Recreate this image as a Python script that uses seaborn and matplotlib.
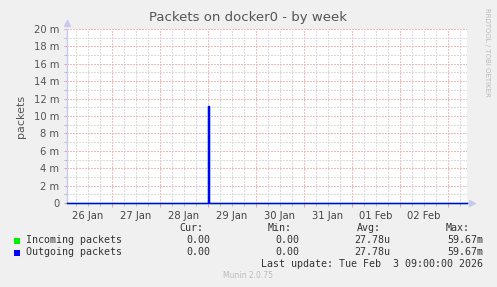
import numpy as np
import pandas as pd
import matplotlib
matplotlib.use("Agg")
import matplotlib.pyplot as plt
import matplotlib.dates as mdates
import matplotlib.ticker as mticker
import seaborn as sns

# ---- data (values in milli-packets/s) ----
times = ["2026-01-26 01:30", "2026-01-28 23:30", "2026-01-29 00:00",
         "2026-01-29 00:30", "2026-02-03 09:30"]
incoming = [0.0, 0.0, 11.1, 0.0, 0.0]
outgoing = [0.0, 0.0, 11.1, 0.0, 0.0]
series_names = ["Incoming packets", "Outgoing packets"]
series_colors = ["#00ee00", "#0000ff"]
cur_vals = ["0.00", "0.00"]
min_vals = ["0.00", "0.00"]
avg_vals = ["27.78u", "27.78u"]
max_vals = ["59.67m", "59.67m"]

t = pd.to_datetime(times)
df = pd.DataFrame({"time": list(t) * 2,
                   "value": incoming + outgoing,
                   "series": [series_names[0]] * len(t) + [series_names[1]] * len(t)})

W, H = 497, 287
fig = plt.figure(figsize=(W / 100, H / 100), dpi=100, facecolor="#f0f0f0")
L, R, T, B = 67, 467, 29, 203
ax = fig.add_axes([L / W, 1 - B / H, (R - L) / W, (B - T) / H])
ax.set_facecolor("white")

sns.lineplot(data=df, x="time", y="value", hue="series", palette=series_colors,
             ax=ax, legend=False, drawstyle="steps-post", linewidth=1.0, zorder=5)
for ln in ax.get_lines():
    ln.set_clip_on(False)

ax.set_xlim(t[0], t[-1])
ax.set_ylim(0, 20)

# y grid
ax.yaxis.set_major_locator(mticker.MultipleLocator(2))
ax.yaxis.set_minor_locator(mticker.MultipleLocator(1))
ax.yaxis.set_major_formatter(mticker.FuncFormatter(lambda v, p: "0" if v == 0 else f"{v:g} m"))

# x grid: midnight red, 6h grey
ax.xaxis.set_major_locator(mdates.HourLocator(byhour=[0]))
ax.xaxis.set_minor_locator(mdates.HourLocator(byhour=[6, 12, 18]))
ax.xaxis.set_major_formatter(mticker.NullFormatter())
ax.xaxis.set_minor_formatter(mticker.FuncFormatter(
    lambda v, p: mdates.num2date(v).strftime("%d %b") if mdates.num2date(v).hour == 12 else ""))

ax.grid(which="major", color="#f2baba", linestyle=(0, (1.4, 1.4)), linewidth=0.72)
ax.grid(which="minor", color="#dadada", linestyle=(0, (1.4, 1.4)), linewidth=0.72)
ax.set_axisbelow(True)
for tk in (ax.xaxis.get_major_ticks() + ax.yaxis.get_major_ticks()
           + ax.xaxis.get_minor_ticks() + ax.yaxis.get_minor_ticks()):
    tk.gridline.set_antialiased(False)

ax.tick_params(axis="both", which="both", labelsize=7.2, colors="#555555", length=2, width=0.72)
ax.tick_params(axis="x", which="minor", pad=4, length=2, color="#bbbbbb")
ax.tick_params(axis="x", which="major", color="#eaa0a0", length=3)
ax.tick_params(axis="y", which="major", color="#eaa0a0")
ax.tick_params(axis="y", which="minor", color="#bbbbbb")
for lab in ax.get_xticklabels(which="minor"):
    lab.set_color("#444444")

for s in ["top", "right"]:
    ax.spines[s].set_visible(False)
for s in ["left", "bottom"]:
    ax.spines[s].set_color("#c8c8f0")
    ax.spines[s].set_linewidth(1.0)
    ax.spines[s].set_zorder(2)
ax.set_xlabel("")
ax.set_ylabel("packets", fontsize=8, color="#555555", labelpad=6)

# arrows
ax.plot([0], [1.035], marker="^", color="#c8c8f0", markersize=5, transform=ax.transAxes, clip_on=False)
ax.plot([1.012], [0], marker=">", color="#c8c8f0", markersize=5, transform=ax.transAxes, clip_on=False)

def ftxt(x, y, s, **kw):
    fig.text(x / W, 1 - y / H, s, **kw)

ftxt(248, 18, "Packets on docker0 - by week", ha="center", va="center", fontsize=9.5, color="#555555")
ftxt(487, 52, "RRDTOOL / TOBI OETIKER", ha="center", va="center", fontsize=5, color="#bbbbbb", rotation=-90)

mono = dict(family="DejaVu Sans Mono", fontsize=7.2, color="#333333", va="center")
ftxt(203, 228, "Cur:", ha="right", **mono)
ftxt(292, 228, "Min:", ha="right", **mono)
ftxt(381, 228, "Avg:", ha="right", **mono)
ftxt(470, 228, "Max:", ha="right", **mono)
for i, name in enumerate(series_names):
    y = 240 + 12 * i
    ftxt(26, y, name, ha="left", **mono)
    ftxt(210, y, cur_vals[i], ha="right", **mono)
    ftxt(299, y, min_vals[i], ha="right", **mono)
    ftxt(390, y, avg_vals[i], ha="right", **mono)
    ftxt(483, y, max_vals[i], ha="right", **mono)
    fig.patches.append(plt.Rectangle(((14) / W, 1 - (y + 3.5) / H), 6 / W, 6 / H,
                                     transform=fig.transFigure, facecolor=series_colors[i],
                                     edgecolor="none", figure=fig))
ftxt(483, 264, "Last update: Tue Feb  3 09:00:00 2026", ha="right", **mono)
ftxt(248, 276, "Munin 2.0.75", ha="center", va="center", fontsize=5.5, color="#bbbbbb")

fig.savefig("out.png", dpi=100, facecolor=fig.get_facecolor())
